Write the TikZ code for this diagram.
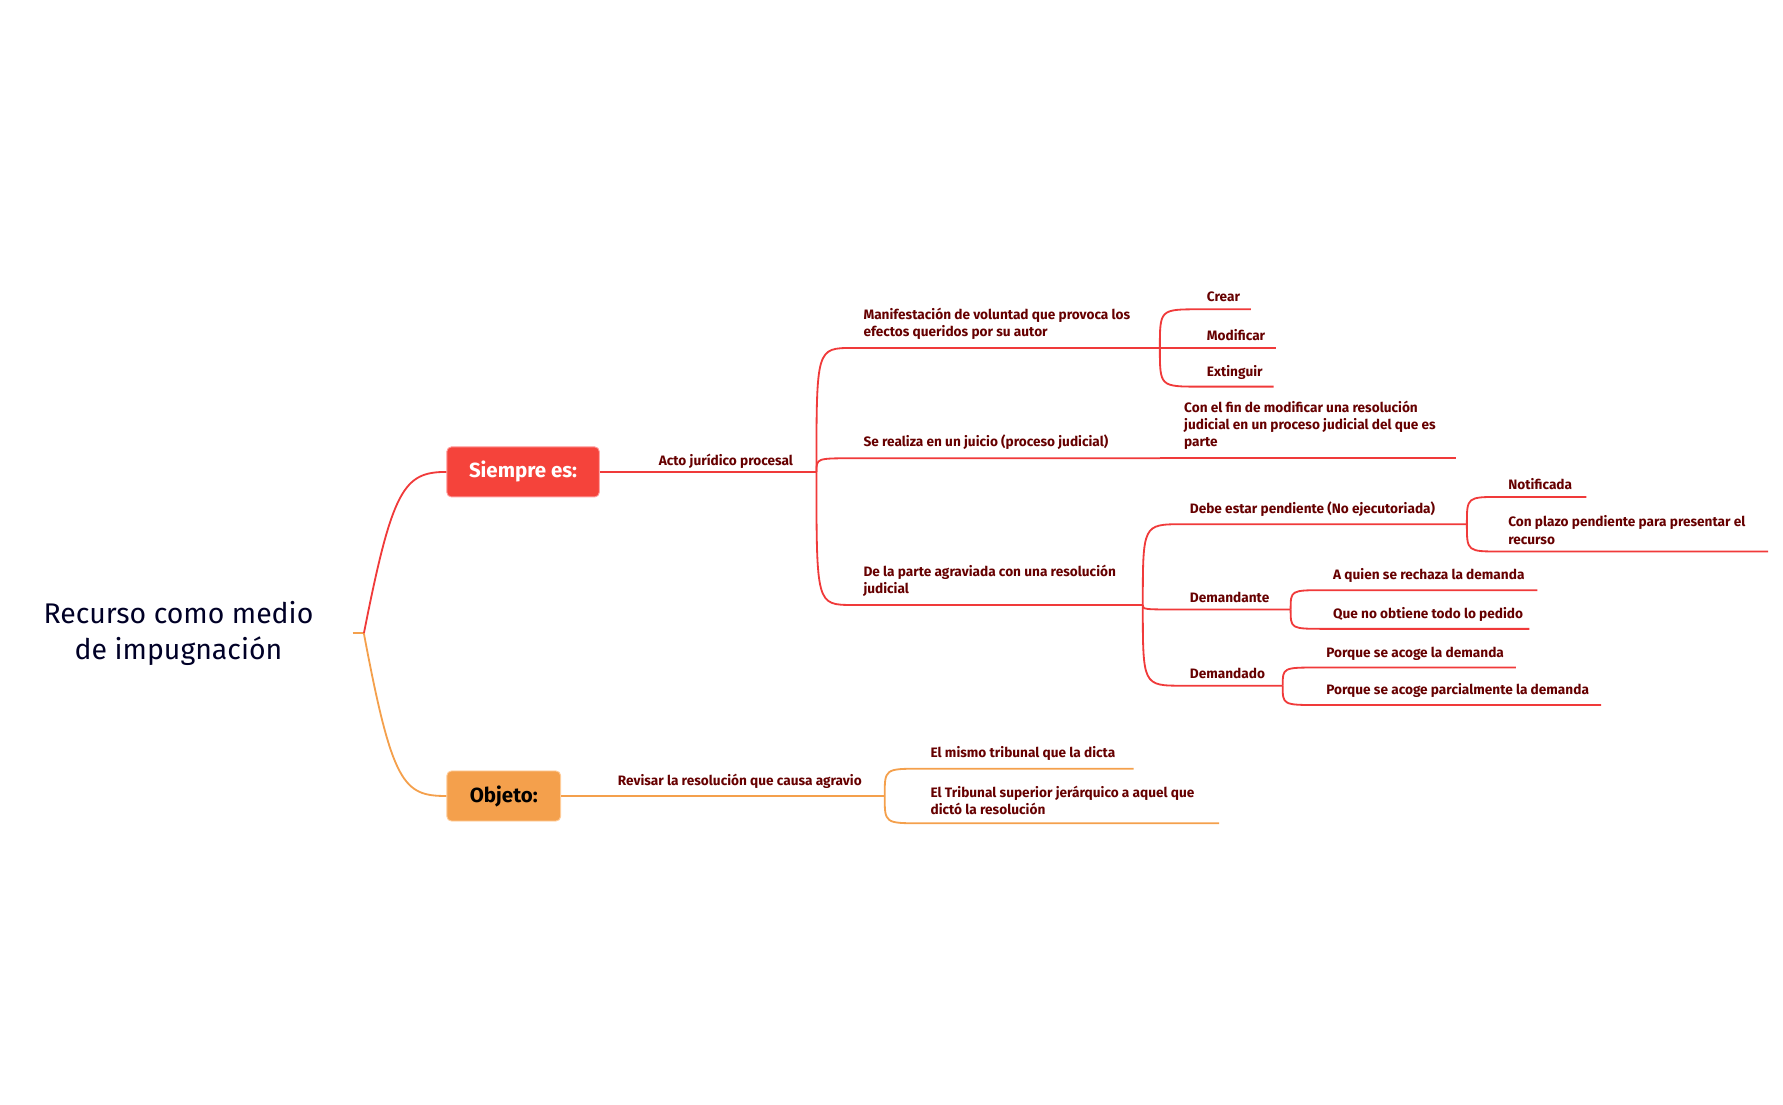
\documentclass[tikz,border=0pt]{standalone}
\usepackage{fontspec}
\setmainfont{Fira Sans}
\definecolor{boxred}{HTML}{F5433B}
\definecolor{boxorg}{HTML}{F4A04C}
\definecolor{linered}{HTML}{F03A3A}
\definecolor{lineorg}{HTML}{F4A04C}
\begin{document}
\begin{tikzpicture}[x=0.5pt,y=-0.5pt,
  red/.style={draw=linered, line width=0.8pt},
  org/.style={draw=lineorg, line width=0.8pt},
  lab/.style={anchor=south west, inner sep=1.5pt, font=\fontsize{6}{7.5}\selectfont\bfseries, text=red!40!black, align=left}]
\useasboundingbox (0,0) rectangle (1568,971);
% title
\node[font=\fontsize{12.5}{16}\selectfont, text=black!85!blue, align=center] (title) at (157,557) {Recurso como medio\\de impugnación};
\coordinate (r0) at (310,557);
\coordinate (r1) at (320,557);
\draw[org] (r0) -- (r1);
% main boxes
\node[draw=red!40, fill=boxred, text=white, font=\fontsize{9}{10}\selectfont\bfseries, minimum width=67pt, minimum height=22pt, rounded corners=2pt] (s) at (460,415) {Siempre es:};
\node[draw=orange!40, fill=boxorg, text=black, font=\fontsize{9}{10}\selectfont\bfseries, minimum width=50pt, minimum height=22pt, rounded corners=2pt] (o) at (443,700) {Objeto:};
\draw[red] (r1) .. controls (345,430) and (355,415) .. (s.west);
\draw[org] (r1) .. controls (345,690) and (355,700) .. (o.west);
\coordinate (a0) at (718,415);
\draw[red] (s.east) -- (a0);
\node[lab] (acto) at (576,415) {Acto jurídico procesal};
% level 3
\coordinate (m0) at (750,306); \coordinate (m1) at (1020,306);
\coordinate (j0) at (750,403); \coordinate (j1) at (1020,403);
\coordinate (d0) at (750,532); \coordinate (d1) at (1005,532);
\draw[red] (a0) .. controls (718,306) .. (m0) -- (m1);
\draw[red] (a0) .. controls (718,403) .. (j0) -- (j1);
\draw[red] (a0) .. controls (718,532) .. (d0) -- (d1);
\node[lab] (man) at (756,302) {Manifestación de voluntad que provoca los\\efectos queridos por su autor};
\node[lab] (se) at (756,399) {Se realiza en un juicio (proceso judicial)};
\node[lab] (dp) at (756,528) {De la parte agraviada con una resolución\\judicial};
\foreach \n/\y/\e/\t in {cr/272/1100/Crear, mo/306/1122/Modificar, ex/340/1120/Extinguir}{
  \coordinate (\n0) at (1055,\y); \coordinate (\n1) at (\e,\y);
  \draw[red] (m1) .. controls (1020,\y) .. (\n0) -- (\n1);
  \node[lab] (\n) at (1058,\y-3) {\t};
}
\coordinate (cf1) at (1280,403);
\draw[red] (j1) -- (cf1);
\node[lab] (cf) at (1038,399) {Con el fin de modificar una resolución\\judicial en un proceso judicial del que es\\parte};
\coordinate (de0) at (1040,461); \coordinate (de1) at (1290,461);
\coordinate (dt0) at (1040,536); \coordinate (dt1) at (1135,536);
\coordinate (dd0) at (1040,603); \coordinate (dd1) at (1128,603);
\draw[red] (d1) .. controls (1005,461) .. (de0) -- (de1);
\draw[red] (d1) .. controls (1005,536) .. (dt0) -- (dt1);
\draw[red] (d1) .. controls (1005,603) .. (dd0) -- (dd1);
\node[lab] (de) at (1043,458) {Debe estar pendiente (No ejecutoriada)};
\node[lab] (dt) at (1043,533) {Demandante};
\node[lab] (dd) at (1043,600) {Demandado};
\coordinate (no0) at (1320,437); \coordinate (no1) at (1395,437);
\coordinate (cp0) at (1320,485); \coordinate (cp1) at (1555,485);
\draw[red] (de1) .. controls (1290,437) .. (no0) -- (no1);
\draw[red] (de1) .. controls (1290,485) .. (cp0) -- (cp1);
\node[lab] (no) at (1323,434) {Notificada};
\node[lab] (cp) at (1323,482) {Con plazo pendiente para presentar el\\recurso};
\coordinate (aq0) at (1165,519); \coordinate (aq1) at (1352,519);
\coordinate (qn0) at (1165,553); \coordinate (qn1) at (1345,553);
\draw[red] (dt1) .. controls (1135,519) .. (aq0) -- (aq1);
\draw[red] (dt1) .. controls (1135,553) .. (qn0) -- (qn1);
\node[lab] (aq) at (1169,516) {A quien se rechaza la demanda};
\node[lab] (qn) at (1169,550) {Que no obtiene todo lo pedido};
\coordinate (pa0) at (1160,587); \coordinate (pa1) at (1333,587);
\coordinate (pp0) at (1160,620); \coordinate (pp1) at (1408,620);
\draw[red] (dd1) .. controls (1128,587) .. (pa0) -- (pa1);
\draw[red] (dd1) .. controls (1128,620) .. (pp0) -- (pp1);
\node[lab] (pa) at (1163,584) {Porque se acoge la demanda};
\node[lab] (pp) at (1163,617) {Porque se acoge parcialmente la demanda};
\coordinate (rv1) at (778,700);
\draw[org] (o.east) -- (rv1);
\node[lab] (rv) at (540,697) {Revisar la resolución que causa agravio};
\coordinate (em0) at (810,676); \coordinate (em1) at (997,676);
\coordinate (et0) at (810,724); \coordinate (et1) at (1072,724);
\draw[org] (rv1) .. controls (778,676) .. (em0) -- (em1);
\draw[org] (rv1) .. controls (778,724) .. (et0) -- (et1);
\node[lab] (em) at (815,672) {El mismo tribunal que la dicta};
\node[lab] (et) at (815,720) {El Tribunal superior jerárquico a aquel que\\dictó la resolución};
\end{tikzpicture}
\end{document}
